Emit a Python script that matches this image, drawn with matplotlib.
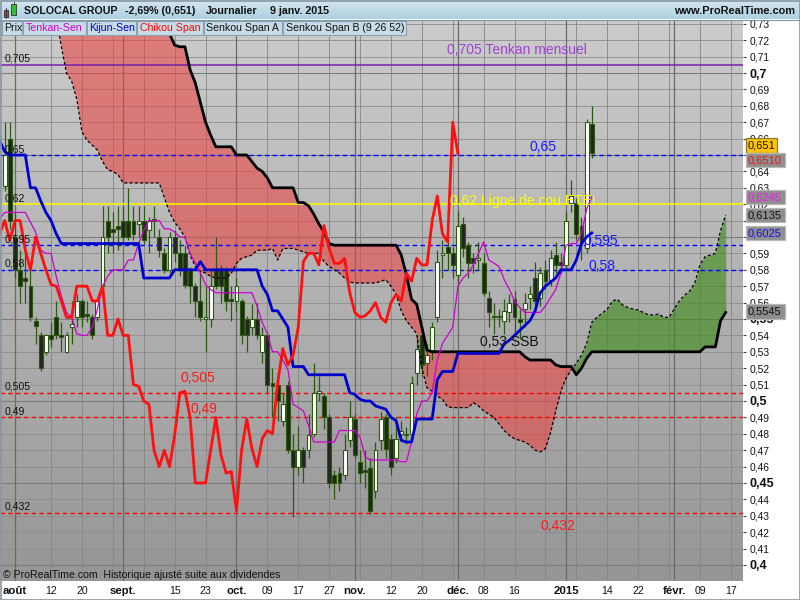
import numpy as np
import matplotlib
matplotlib.use('Agg')
import matplotlib.pyplot as plt
from matplotlib.patches import Rectangle
from matplotlib.colors import LinearSegmentedColormap

plt.rcParams['font.family'] = ['Liberation Sans', 'DejaVu Sans']

# ---------------- data ----------------
# x axis = trading-day index, 0 = 1 Aug 2014
first_candle = -2
opens = [0.631,0.660,0.600,0.580,0.575,0.570,0.549,0.540,0.530,0.540,0.551,0.540,
         0.530,0.545,0.551,0.561,0.553,0.551,0.551,0.570,0.610,0.605,
         0.607,0.610,0.610,0.610,0.608,0.610,0.604,0.611,0.600,0.590,
         0.580,0.600,0.590,0.590,0.580,0.570,0.561,0.550,0.550,0.580,
         0.580,0.580,0.562,0.561,0.561,0.550,0.545,0.550,0.530,0.540,
         0.511,0.510,0.488,0.510,0.470,0.460,0.470,0.470,0.480,0.505,
         0.503,0.490,0.455,0.456,0.455,0.476,0.489,0.463,0.458,0.459,
         0.445,0.476,0.490,0.477,0.465,0.480,0.479,0.480,0.517,0.540,
         0.523,0.531,0.551,0.589,0.594,0.590,0.577,0.608,0.595,0.587,
         0.586,0.584,0.563,0.551,0.551,0.549,0.554,0.562,0.550,0.556,
         0.563,0.575,0.563,0.580,0.574,0.589,0.585,0.583,0.621,0.621,
         0.607,0.593,0.669]
highs = [0.670,0.670,0.616,0.592,0.590,0.580,0.551,0.542,0.541,0.548,0.561,0.548,
         0.542,0.561,0.565,0.562,0.561,0.553,0.563,0.619,0.619,0.615,
         0.619,0.619,0.630,0.619,0.619,0.619,0.612,0.619,0.605,0.593,
         0.603,0.604,0.598,0.595,0.582,0.572,0.580,0.570,0.580,0.600,
         0.583,0.582,0.570,0.575,0.562,0.552,0.559,0.560,0.545,0.542,
         0.520,0.518,0.505,0.512,0.480,0.485,0.472,0.492,0.523,0.515,
         0.505,0.492,0.458,0.460,0.480,0.500,0.492,0.470,0.470,0.465,
         0.475,0.493,0.492,0.480,0.490,0.488,0.484,0.515,0.540,0.545,
         0.535,0.548,0.592,0.598,0.598,0.594,0.616,0.612,0.597,0.590,
         0.597,0.590,0.567,0.560,0.556,0.562,0.565,0.567,0.556,0.566,
         0.570,0.585,0.582,0.586,0.592,0.597,0.590,0.615,0.635,0.624,
         0.612,0.672,0.680]
lows = [0.628,0.605,0.575,0.560,0.560,0.549,0.535,0.518,0.528,0.533,0.538,0.530,
        0.529,0.535,0.545,0.545,0.548,0.538,0.549,0.560,0.590,0.590,
        0.592,0.598,0.598,0.598,0.600,0.596,0.590,0.600,0.588,0.578,
        0.578,0.585,0.576,0.569,0.560,0.551,0.549,0.530,0.545,0.568,
        0.560,0.555,0.549,0.555,0.535,0.530,0.540,0.538,0.523,0.505,
        0.490,0.488,0.485,0.468,0.429,0.455,0.450,0.465,0.478,0.500,
        0.483,0.447,0.440,0.445,0.452,0.472,0.465,0.450,0.447,0.431,
        0.441,0.470,0.465,0.455,0.462,0.476,0.474,0.477,0.510,0.515,
        0.515,0.525,0.548,0.575,0.580,0.575,0.572,0.588,0.575,0.578,
        0.580,0.564,0.545,0.541,0.545,0.541,0.548,0.540,0.538,0.545,
        0.556,0.555,0.558,0.568,0.570,0.578,0.578,0.580,0.615,0.598,
        0.586,0.590,0.648]
closes = [0.650,0.610,0.580,0.570,0.573,0.551,0.546,0.520,0.540,0.538,0.540,0.539,
          0.540,0.547,0.561,0.551,0.552,0.540,0.561,0.600,0.600,0.603,
          0.605,0.600,0.600,0.602,0.610,0.598,0.610,0.610,0.592,0.580,
          0.600,0.590,0.580,0.571,0.570,0.561,0.551,0.551,0.570,0.570,
          0.570,0.561,0.561,0.570,0.540,0.540,0.550,0.540,0.540,0.510,
          0.509,0.500,0.498,0.470,0.460,0.470,0.460,0.479,0.505,0.506,
          0.490,0.450,0.450,0.450,0.470,0.490,0.467,0.456,0.457,0.433,
          0.470,0.489,0.471,0.460,0.477,0.482,0.480,0.511,0.532,0.522,
          0.528,0.545,0.585,0.590,0.590,0.583,0.607,0.593,0.584,0.584,
          0.587,0.566,0.554,0.551,0.552,0.555,0.560,0.551,0.548,0.560,
          0.565,0.561,0.578,0.573,0.587,0.583,0.583,0.610,0.625,0.602,
          0.597,0.670,0.651]

# Tenkan / Kijun from index -3 to 112
first_line = -3
tenkan = [0.611,0.615,0.615,0.615,0.615,0.615,0.609,0.603,0.592,0.590,0.590,0.576,0.564,
          0.554,0.551,0.541,0.540,0.540,0.545,0.556,0.570,0.576,0.580,
          0.580,0.580,0.586,0.586,0.596,0.604,0.610,0.610,0.610,0.605,
          0.605,0.603,0.600,0.600,0.590,0.584,0.578,0.571,0.568,0.566,
          0.566,0.566,0.566,0.566,0.566,0.566,0.566,0.558,0.548,0.541,
          0.530,0.530,0.525,0.519,0.498,0.496,0.494,0.485,0.475,0.475,
          0.475,0.475,0.475,0.482,0.482,0.482,0.482,0.478,0.466,0.464,
          0.464,0.464,0.464,0.464,0.464,0.463,0.463,0.475,0.492,0.500,
          0.500,0.505,0.525,0.535,0.540,0.545,0.570,0.575,0.578,0.583,
          0.590,0.597,0.586,0.584,0.582,0.574,0.568,0.561,0.557,0.554,
          0.554,0.554,0.554,0.558,0.563,0.568,0.578,0.595,0.596,0.596,
          0.602,0.617,0.6245]
kijun = [0.659,0.652,0.650,0.650,0.650,0.650,0.630,0.630,0.622,0.615,0.610,0.602,0.596,
         0.596,0.596,0.596,0.596,0.596,0.596,0.596,0.596,0.596,0.596,
         0.596,0.596,0.596,0.596,0.596,0.575,0.575,0.575,0.575,0.575,
         0.575,0.580,0.580,0.580,0.580,0.580,0.585,0.580,0.580,0.580,
         0.580,0.580,0.580,0.580,0.580,0.580,0.580,0.580,0.570,0.565,
         0.555,0.555,0.550,0.545,0.521,0.521,0.521,0.516,0.516,0.516,
         0.516,0.516,0.516,0.516,0.516,0.505,0.504,0.501,0.500,0.500,
         0.497,0.496,0.495,0.490,0.488,0.476,0.475,0.475,0.489,0.489,
         0.489,0.489,0.513,0.518,0.518,0.518,0.529,0.529,0.529,0.529,
         0.529,0.529,0.529,0.529,0.529,0.535,0.537,0.540,0.543,0.546,
         0.549,0.555,0.566,0.570,0.5725,0.575,0.580,0.580,0.580,0.586,
         0.596,0.600,0.6025]

# Senkou spans (projected 26 days ahead) from index -3 to 138
senkou_a = [0.745,0.745,0.745,0.745,0.745,0.745,0.745,0.745,0.745,0.745,0.745,
            0.735,0.716,0.700,0.695,0.684,0.664,0.659,0.656,0.653,0.646,
            0.641,0.640,0.638,0.633,0.633,0.633,0.633,0.633,0.633,0.633,
            0.633,0.624,0.615,0.609,0.605,0.600,0.589,0.582,0.579,0.578,
            0.576,0.575,0.575,0.575,0.578,0.584,0.587,0.588,0.589,0.592,
            0.592,0.592,0.593,0.586,0.593,0.593,0.593,0.592,0.591,0.590,
            0.590,0.590,0.585,0.582,0.580,0.578,0.575,0.5725,0.572,0.572,
            0.572,0.572,0.572,0.573,0.574,0.570,0.565,0.555,0.549,0.545,
            0.541,0.520,0.508,0.506,0.503,0.501,0.4965,0.496,0.496,0.496,
            0.496,0.499,0.497,0.494,0.492,0.490,0.486,0.482,0.479,0.477,
            0.476,0.475,0.473,0.470,0.469,0.471,0.481,0.494,0.506,0.514,
            0.519,0.523,0.528,0.535,0.548,0.551,0.5535,0.556,0.561,0.562,
            0.5585,0.557,0.556,0.5555,0.554,0.5525,0.5525,0.553,0.551,0.551,
            0.556,0.561,0.5645,0.567,0.572,0.583,0.588,0.589,0.590,0.604,
            0.6135]
senkou_b = [0.760,0.760,0.760,0.760,0.760,0.760,0.760,0.760,0.760,0.760,0.760,
            0.760,0.760,0.760,0.760,0.760,0.760,0.760,0.760,0.760,0.760,
            0.760,0.760,0.760,0.760,0.760,0.760,0.760,0.760,0.760,0.760,
            0.760,0.738,0.724,0.717,0.716,0.716,0.702,0.694,0.682,0.670,
            0.662,0.655,0.655,0.655,0.655,0.650,0.650,0.650,0.646,0.642,
            0.640,0.636,0.630,0.630,0.630,0.630,0.630,0.621,0.621,0.619,
            0.614,0.608,0.603,0.596,0.595,0.595,0.595,0.595,0.595,0.595,
            0.595,0.595,0.595,0.595,0.595,0.595,0.595,0.589,0.577,0.562,
            0.559,0.545,0.531,0.530,0.530,0.530,0.530,0.530,0.530,0.530,
            0.530,0.530,0.530,0.530,0.530,0.530,0.530,0.530,0.530,0.530,
            0.530,0.527,0.525,0.525,0.525,0.525,0.525,0.522,0.521,0.521,
            0.521,0.516,0.520,0.526,0.530,0.530,0.530,0.530,0.530,0.530,
            0.530,0.530,0.530,0.530,0.530,0.530,0.530,0.530,0.530,0.530,
            0.530,0.530,0.530,0.530,0.530,0.530,0.533,0.533,0.533,0.549,
            0.554]
chikou_shift = 26

# x-axis labels
tick_days = [0, 7, 13, 21, 31, 37, 43, 49, 55, 61, 66, 73, 79, 86, 91, 97, 107, 115, 121, 128, 133, 139]
tick_labels = ['août', '12', '20', 'sept.', '15', '23', 'oct.', '09', '17', '27', 'nov.', '12', '20',
               'déc.', '08', '16', '2015', '14', '22', 'févr.', '09', '17']
month_labels = ['août', 'sept.', 'oct.', 'nov.', 'déc.', '2015', 'févr.']
grid_days = [7, 13, 19, 25, 31, 37, 49, 55, 61, 67, 73, 79, 85, 91, 97, 103, 109, 115, 121, 127, 133, 139]
month_days = [0, 21, 43, 66, 86, 107, 128]

# horizontal levels
level_values = [0.705, 0.65, 0.62, 0.595, 0.58, 0.505, 0.49, 0.432]
level_names = ['0,705', '0,65', '0,62', '0,595', '0,58', '0,505', '0,49', '0,432']
level_colors = ['#7a1fa8', '#0000ff', '#ffff00', '#0000ff', '#0000ff', '#ff0000', '#ff0000', '#ff0000']
level_dashed = [False, True, False, True, True, True, True, True]

# price-scale values hidden behind the value boxes
hidden_ticks = [0.65, 0.61, 0.60]

# ---------------- figure ----------------
W, H = 800, 600
fig = plt.figure(figsize=(8, 6), dpi=100, facecolor='white')
ax = fig.add_axes([0 / W, (H - 581) / H, 743 / W, (581 - 20) / H])
xmin, xmax = -2.913, 141.36
ymin, ymax = 0.39024, 0.73232

grad = np.linspace(0, 1, 256).reshape(-1, 1)
ax.imshow(grad, extent=[0, 1, 0, 1], transform=ax.transAxes, origin='upper',
          cmap=LinearSegmentedColormap.from_list('bg', ['#cccccc', '#969696']),
          aspect='auto', zorder=-5)

for v in np.arange(0.39, 0.735, 0.01):
    strong = abs(round(v * 100) % 5) == 0
    ax.axhline(v, color='#7c7c7c' if strong else '#8e8e8e', lw=0.8 if strong else 0.6, zorder=0)
for d in grid_days:
    ax.axvline(d, color='#858585', lw=0.6, zorder=0)
for d in month_days:
    ax.axvline(d, color='#6a6a6a', lw=0.9, zorder=0)

sx = np.arange(first_line, first_line + len(senkou_a))
sa = np.array(senkou_a)
sb = np.array(senkou_b)
ax.fill_between(sx, sa, sb, where=sb >= sa, interpolate=True, color='#ec4444', alpha=0.58, lw=0, zorder=1)
ax.fill_between(sx, sa, sb, where=sa > sb, interpolate=True, color='#3c8c18', alpha=0.62, lw=0, zorder=1)

for val, col, dashed in zip(level_values, level_colors, level_dashed):
    ax.axhline(val, color=col, lw=1.0 if dashed else 1.1,
               ls=(0, (3.2, 2.4)) if dashed else '-', zorder=2)

# candles
cx = np.arange(first_candle, first_candle + len(opens))
o = np.array(opens); c = np.array(closes); hi = np.array(highs); lo = np.array(lows)
ax.vlines(cx, lo, hi, color='#2c5a10', lw=0.9, zorder=3)
bottoms = np.minimum(o, c)
heights = np.maximum(np.abs(c - o), 0.0008)
face = ['#ffffff' if cc > oo else '#20281c' for oo, cc in zip(o, c)]
ax.bar(cx, heights, bottom=bottoms, width=0.74, color=face, edgecolor='#2c5a10', linewidth=0.8, zorder=4)

lx = np.arange(first_line, first_line + len(tenkan))
ax.plot(sx, sa, color='black', lw=0.9, ls=(0, (2.4, 1.8)), zorder=5)
ax.plot(sx, sb, color='black', lw=2.0, zorder=5)
ax.plot(lx, tenkan, color='#d000d0', lw=0.9, zorder=6)
ax.plot(lx, kijun, color='#0000cc', lw=2.0, zorder=6)
ax.plot(cx - chikou_shift, closes, color='#ff1010', lw=2.0, zorder=6)

ax.set_xlim(xmin, xmax)
ax.set_ylim(ymin, ymax)

# left small labels above level lines
ytr = ax.get_yaxis_transform()
for val, name in zip(level_values, level_names):
    ax.annotate(name, xy=(0, val), xycoords=ytr, xytext=(3.6, 4.3), textcoords='offset points',
                fontsize=7.6, color='#111111', va='center', ha='left', zorder=8)

# in-chart annotations (x in trading days, y in price)
ax.text(83.9, 0.7142, '0,705 Tenkan mensuel', color='#a040d8', fontsize=10, va='center', ha='left', zorder=8)
ax.text(100.0, 0.6549, '0,65', color='#1a1aff', fontsize=10, va='center', ha='left', zorder=8)
ax.text(84.4, 0.6220, '0,62 Ligne de cou ETEI', color='#ffff00', fontsize=10, va='center', ha='left', zorder=8)
ax.text(110.3, 0.5975, '0,595', color='#1a1aff', fontsize=10, va='center', ha='left', zorder=8)
ax.text(111.3, 0.5823, '0,58', color='#1a1aff', fontsize=10, va='center', ha='left', zorder=8)
ax.text(90.3, 0.5357, '0,53 SSB', color='#111111', fontsize=10, va='center', ha='left', zorder=8)
ax.text(32.2, 0.5140, '0,505', color='#ff1a1a', fontsize=10, va='center', ha='left', zorder=8)
ax.text(34.0, 0.4951, '0,49', color='#ff1a1a', fontsize=10, va='center', ha='left', zorder=8)
ax.text(102.1, 0.4238, '0,432', color='#ff1a1a', fontsize=10, va='center', ha='left', zorder=8)
ax.text(0.004, 0.011, '© ProRealTime.com  Historique ajusté suite aux dividendes', transform=ax.transAxes,
        fontsize=7.6, color='#111111', va='center', ha='left', zorder=8)

# axes styling
for s in ax.spines.values():
    s.set_visible(False)
ax.yaxis.tick_right()
yt = [round(0.40 + 0.01 * k, 2) for k in range(34)]
ax.set_yticks(yt)
ylabs = []
for v in yt:
    s = ('%.2f' % v).rstrip('0').rstrip('.') if round(v * 100) % 10 == 0 else '%.2f' % v
    if any(abs(v - h) < 1e-9 for h in hidden_ticks):
        s = ''
    ylabs.append(s.replace('.', ','))
ax.set_yticklabels(ylabs)
for v, lab in zip(yt, ax.get_yticklabels()):
    if round(v * 100) % 5 == 0:
        lab.set_fontweight('bold'); lab.set_fontsize(9)
    else:
        lab.set_fontsize(7.4)
ax.tick_params(axis='y', length=2.5, width=0.8, color='#444444', pad=2, labelcolor='#111111')
ax.set_xticks(tick_days)
ax.set_xticklabels(tick_labels)
for lab in ax.get_xticklabels():
    if lab.get_text() in month_labels:
        lab.set_fontweight('bold'); lab.set_fontsize(8.2)
    else:
        lab.set_fontsize(7.6)
ax.tick_params(axis='x', length=0, pad=3.6, labelcolor='#111111')

# ---------------- overlay (header, legend, value boxes) ----------------
ov = fig.add_axes([0, 0, 1, 1], zorder=20)
ov.patch.set_alpha(0)
hgrad = np.linspace(0, 1, 64).reshape(-1, 1)
ov.imshow(hgrad, extent=[0, 800, 19.5, 0], origin='upper', aspect='auto',
          cmap=LinearSegmentedColormap.from_list('hd', ['#d6e8f1', '#aed0e1']))
ov.plot([0, 800], [19.5, 19.5], color='#7d98aa', lw=0.8)
# icon
ov.add_patch(Rectangle((3.5, 10), 4.5, 6.5, facecolor='#e03030', edgecolor='#333333', lw=0.6))
ov.plot([5.75, 5.75], [8, 18], color='#333333', lw=0.6)
ov.add_patch(Rectangle((11, 3.5), 5, 11, facecolor='#30c030', edgecolor='#333333', lw=0.6))
ov.plot([13.5, 13.5], [1.5, 3.5], color='#333333', lw=0.6)
hdr = [(24, 'SOLOCAL GROUP'), (125, '-2,69% (0,651)'), (206, 'Journalier'), (270, '9 janv. 2015')]
for hx, txt in hdr:
    ov.text(hx, 10.5, txt, fontsize=7.7, fontweight='bold', color='#111111', va='center', ha='left')
ov.text(795, 10.5, 'www.ProRealTime.com', fontsize=7.9, fontweight='bold', color='#111111', va='center', ha='right')

legend_items = [('Prix', '#111111', 1.5, 22), ('Tenkan-Sen', '#d000d0', 23, 86),
                ('Kijun-Sen', '#0000d0', 87, 136), ('Chikou Span', '#ff0000', 137, 203),
                ('Senkou Span A', '#111111', 204, 282), ('Senkou Span B (9 26 52)', '#111111', 283, 406)]
for name, col, x0, x1 in legend_items:
    ov.add_patch(Rectangle((x0, 20.5), x1 - x0, 14, facecolor='#c8dce6', edgecolor='#8aa2b2', lw=0.8))
    ov.text(x0 + 2.5, 27.8, name, fontsize=7.6, color=col, va='center', ha='left')

# value boxes on the price scale
fig.canvas.draw()
def ypix(v):
    return H - ax.transData.transform((0, v))[1]
value_boxes = [(0.651, -8, '0,651', '#ffc400', '#111111', 31),
               (0.651, 6.5, '0,6510', '#8e8e8e', '#ff1010', 39),
               (0.6245, 0, '0,6245', '#8e8e8e', '#ff10ff', 39),
               (0.6135, 0, '0,6135', '#8e8e8e', '#111111', 39),
               (0.6025, 0, '0,6025', '#8e8e8e', '#1010ff', 39),
               (0.5545, 0, '0,5545', '#8e8e8e', '#111111', 39)]
for v, off, txt, fc, tc, w in value_boxes:
    yc = ypix(v) + off
    ov.add_patch(Rectangle((746, yc - 7.3), w, 14.6, facecolor=fc, edgecolor='#b8b8b8' if fc != '#ffc400' else '#8a7a30', lw=0.9))
    ov.text(748, yc + 0.3, txt, fontsize=8, color=tc, va='center', ha='left')

ov.add_patch(Rectangle((0.5, 0.5), 799, 599, facecolor='none', edgecolor='#8797a4', lw=1.2))
ov.set_xlim(0, 800)
ov.set_ylim(600, 0)
ov.axis('off')

fig.savefig('out.png', dpi=100, facecolor='white')
